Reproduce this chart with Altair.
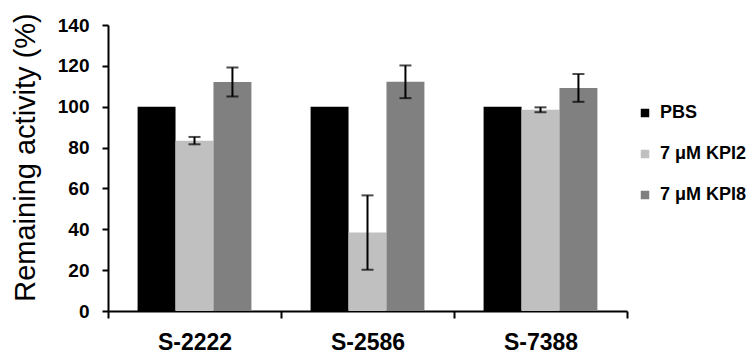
import altair as alt
import pandas as pd

# Remaining enzyme activity per strain and treatment (mean ± SD)
strains = ["S-2222", "S-2586", "S-7388"]
treatments = ["PBS", "7 μM KPI2", "7 μM KPI8"]
colors = ["#000000", "#c0c0c0", "#808080"]

activity = {
    "PBS":       [100.0, 100.0, 100.0],
    "7 μM KPI2": [83.4, 38.4, 98.5],
    "7 μM KPI8": [112.1, 112.2, 109.2],
}
error = {
    "PBS":       [0.0, 0.0, 0.0],
    "7 μM KPI2": [1.8, 18.2, 1.2],
    "7 μM KPI8": [7.1, 8.0, 6.8],
}

rows = []
for t in treatments:
    for i, s in enumerate(strains):
        m, e = activity[t][i], error[t][i]
        rows.append({"strain": s, "treatment": t, "value": m,
                     "err": e, "lo": m - e, "hi": m + e})
df = pd.DataFrame(rows)

FONT = "Liberation Sans"

x_enc = alt.X("strain:N", sort=strains, title=None,
              scale=alt.Scale(paddingInner=0, paddingOuter=0),
              axis=alt.Axis(labelAngle=0, labelFont=FONT, labelFontSize=23,
                            labelFontWeight="bold", labelColor="#000000",
                            domainColor="#000000", domainWidth=2,
                            tickColor="#000000", tickWidth=2, tickSize=7,
                            tickBand="extent", labelPadding=13))
xoff = alt.XOffset("treatment:N", sort=treatments,
                   scale=alt.Scale(paddingInner=0, paddingOuter=0.78))
y_scale = alt.Scale(domain=[0, 140], nice=False)

bars = alt.Chart(df).mark_bar().encode(
    x=x_enc,
    xOffset=xoff,
    y=alt.Y("value:Q", scale=y_scale, title="Remaining activity (%)",
            axis=alt.Axis(values=list(range(0, 141, 20)), grid=False,
                          labelFont=FONT, labelFontSize=19, labelFontWeight="bold",
                          labelColor="#000000", labelPadding=13,
                          domainColor="#000000", domainWidth=2,
                          tickColor="#000000", tickWidth=2, tickSize=6,
                          titleFont=FONT, titleFontSize=29, titleFontWeight="normal",
                          titleColor="#000000", titleX=-83, titleY=132,
                          titleAlign="center", titleBaseline="middle")),
    color=alt.Color("treatment:N", sort=treatments,
                    scale=alt.Scale(domain=treatments, range=colors),
                    legend=alt.Legend(title=None, orient="none",
                                      legendX=528, legendY=79,
                                      symbolType="square", symbolSize=72,
                                      symbolStrokeWidth=0,
                                      labelFont=FONT, labelFontSize=18,
                                      labelFontWeight="bold", labelColor="#000000",
                                      labelOffset=6, rowPadding=23, padding=0)),
)

err_df = alt.Chart(df).transform_filter("datum.err > 0")

whiskers = err_df.mark_rule(color="#000000", strokeWidth=2).encode(
    x=alt.X("strain:N", sort=strains),
    xOffset=xoff,
    y=alt.Y("lo:Q", scale=y_scale),
    y2="hi:Q",
)
caps_lo = err_df.mark_tick(color="#000000", thickness=2, size=12).encode(
    x=alt.X("strain:N", sort=strains),
    xOffset=xoff,
    y=alt.Y("lo:Q", scale=y_scale),
)
caps_hi = err_df.mark_tick(color="#000000", thickness=2, size=12).encode(
    x=alt.X("strain:N", sort=strains),
    xOffset=xoff,
    y=alt.Y("hi:Q", scale=y_scale),
)

chart = alt.layer(bars, whiskers, caps_lo, caps_hi).properties(
    width=519, height=286,
    background="#ffffff",
    autosize=alt.AutoSizeParams(type="none"),
    padding={"left": 108, "top": 25, "right": 128, "bottom": 47},
).configure_view(strokeWidth=0)

chart.save("out.html", embed_options={"renderer": "svg", "actions": False})
